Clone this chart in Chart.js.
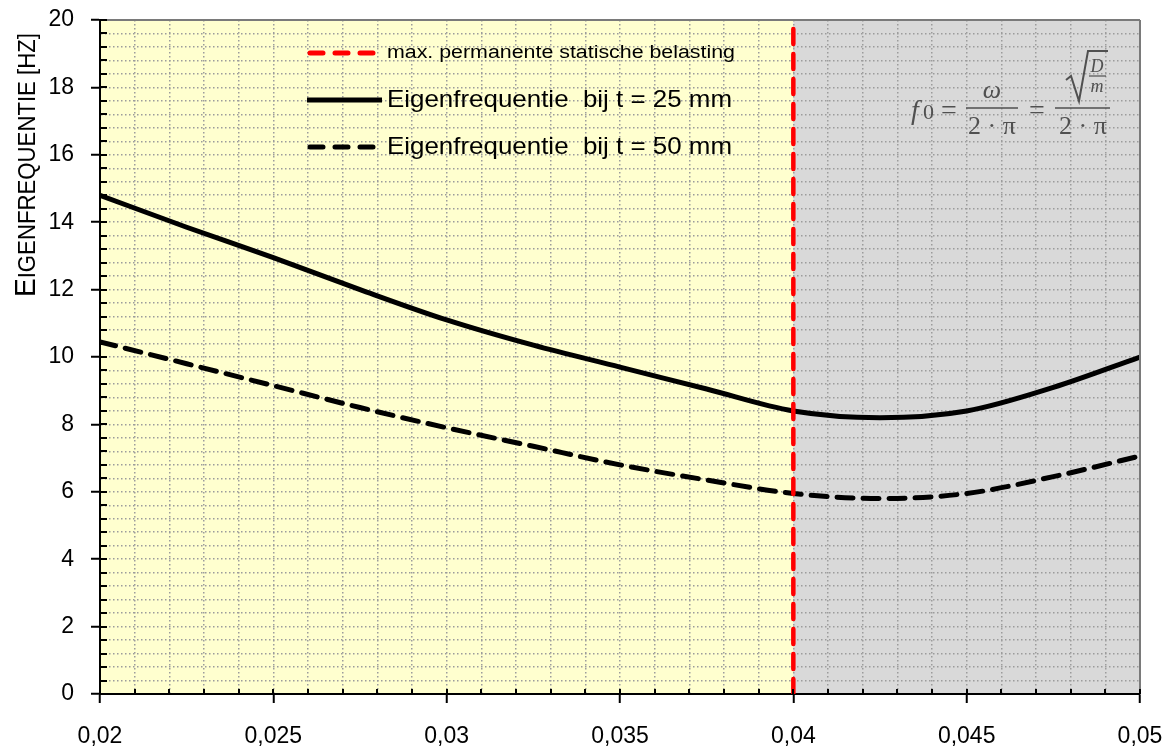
<!DOCTYPE html>
<html>
<head>
<meta charset="utf-8">
<style>
  html, body { margin: 0; padding: 0; background: #fff; }
</style>
<script src="https://cdn.jsdelivr.net/npm/chart.js@4/dist/chart.umd.min.js"></script>
</head>
<body>
<canvas id="myChart" width="1165" height="747"></canvas>
<script>
// Eigenfrequentie chart
var dikte = [0.020, 0.0225, 0.025, 0.0275, 0.030, 0.0325, 0.035, 0.0375, 0.040, 0.0425, 0.045, 0.0475, 0.050];
var freq25 = [14.8, 13.85, 12.95, 12.0, 11.1, 10.35, 9.7, 9.05, 8.4, 8.2, 8.4, 9.1, 10.0];
var freq50 = [10.45, 9.8, 9.15, 8.5, 7.9, 7.35, 6.8, 6.35, 5.95, 5.8, 5.95, 6.45, 7.06];
var grensX = 0.04;
var xTickLabels = ['0,02', '0,025', '0,03', '0,035', '0,04', '0,045', '0,05'];
var yTickLabels = ['0', '2', '4', '6', '8', '10', '12', '14', '16', '18', '20'];
var seriesLabels = ['max. permanente statische belasting', 'Eigenfrequentie  bij t = 25 mm', 'Eigenfrequentie  bij t = 50 mm'];

Chart.defaults.font.family = "'Liberation Sans', Arial, Helvetica, sans-serif";
Chart.defaults.color = '#000';

function pts(xs, ys) {
    return xs.map(function (x, i) { return { x: x, y: ys[i] }; });
}
function isMajorX(v) { return Math.round(v * 1000) % 5 === 0; }
function isMajorY(v) { return Math.round(v * 10) % 20 === 0; }

var backgroundPlugin = {
    id: 'achtergrond',
    beforeDraw: function (chart) {
        var ctx = chart.ctx, a = chart.chartArea;
        var xg = chart.scales.x.getPixelForValue(grensX);
        ctx.save();
        ctx.fillStyle = '#FFFFCF';
        ctx.fillRect(a.left, a.top, xg - a.left, a.bottom - a.top);
        ctx.fillStyle = '#D9D9D9';
        ctx.fillRect(xg, a.top, a.right - xg, a.bottom - a.top);
        ctx.restore();
    }
};

var extrasPlugin = {
    id: 'extras',
    afterDraw: function (chart) {
        var ctx = chart.ctx, a = chart.chartArea;
        var sx = chart.scales.x, sy = chart.scales.y;
        ctx.save();
        // top and right border
        ctx.strokeStyle = '#7a7a7a';
        ctx.lineWidth = 2;
        ctx.beginPath();
        ctx.moveTo(a.left, a.top); ctx.lineTo(a.right, a.top);
        ctx.moveTo(a.right, a.top); ctx.lineTo(a.right, a.bottom);
        ctx.stroke();
        // inner ticks
        ctx.strokeStyle = '#000';
        ctx.lineWidth = 2;
        ctx.beginPath();
        sy.ticks.forEach(function (t) {
            var p = Math.round(sy.getPixelForValue(t.value));
            ctx.moveTo(a.left, p); ctx.lineTo(a.left + 7, p);
        });
        sx.ticks.forEach(function (t) {
            var p = Math.round(sx.getPixelForValue(t.value));
            ctx.moveTo(p, a.bottom); ctx.lineTo(p, a.bottom - 5);
        });
        ctx.stroke();

        // legend
        var rows = [
            { y: 53, font: 18, w: 348 },
            { y: 100, font: 24, w: 345 },
            { y: 147, font: 24, w: 345 }
        ];
        chart.data.datasets.forEach(function (ds, i) {
            var r = rows[i];
            ctx.save();
            ctx.strokeStyle = ds.borderColor;
            ctx.lineWidth = 5;
            ctx.lineCap = ds.borderDash ? 'round' : 'butt';
            ctx.setLineDash(ds.borderDash ? [13, 12] : []);
            ctx.beginPath();
            ctx.moveTo(ds.borderDash ? 310 : 307, r.y);
            ctx.lineTo(382, r.y);
            ctx.stroke();
            ctx.setLineDash([]);
            ctx.font = r.font + "px 'Liberation Sans', Arial, sans-serif";
            ctx.fillStyle = '#000';
            ctx.textBaseline = 'middle';
            var m = ctx.measureText(ds.label).width;
            ctx.translate(387, r.y);
            ctx.scale(r.w / m, 1);
            ctx.fillText(ds.label, 0, 0);
            ctx.restore();
        });

        // formula
        ctx.fillStyle = '#505050';
        ctx.strokeStyle = '#505050';
        ctx.textBaseline = 'alphabetic';
        ctx.textAlign = 'left';
        ctx.font = "italic 28px 'Liberation Serif', 'DejaVu Serif', serif";
        ctx.fillText('f', 911, 119);
        ctx.font = "22px 'Liberation Serif', 'DejaVu Serif', serif";
        ctx.fillText('0', 923, 119);
        ctx.font = "28px 'Liberation Serif', 'DejaVu Serif', serif";
        ctx.fillText('=', 941, 119);
        ctx.fillText('=', 1029, 119);
        ctx.lineWidth = 1.5;
        ctx.beginPath();
        ctx.moveTo(966, 108); ctx.lineTo(1018, 108);
        ctx.moveTo(1055, 108); ctx.lineTo(1110, 108);
        ctx.stroke();
        ctx.textAlign = 'center';
        ctx.font = "italic 26px 'Liberation Serif', 'DejaVu Serif', serif";
        ctx.fillText('\u03C9', 992, 98);
        ctx.font = "26px 'Liberation Serif', 'DejaVu Serif', serif";
        ctx.fillText('2 \u00B7 \u03C0', 992, 134);
        ctx.fillText('2 \u00B7 \u03C0', 1083, 134);
        // square root
        ctx.lineWidth = 2;
        ctx.beginPath();
        ctx.moveTo(1066, 80); ctx.lineTo(1071, 76);
        ctx.lineTo(1079, 101); ctx.lineTo(1088, 51); ctx.lineTo(1108, 51);
        ctx.stroke();
        ctx.lineWidth = 1.2;
        ctx.beginPath();
        ctx.moveTo(1089, 76); ctx.lineTo(1106, 76);
        ctx.stroke();
        ctx.font = "italic 18px 'Liberation Serif', 'DejaVu Serif', serif";
        ctx.fillText('D', 1097, 72);
        ctx.fillText('m', 1097, 92);

        // y axis title in small caps
        var parts = [['E', 29], ['IGENFREQUENTIE [HZ]', 23]];
        var total = 0;
        parts.forEach(function (p) {
            ctx.font = p[1] + "px 'Liberation Sans', Arial, sans-serif";
            total += ctx.measureText(p[0]).width;
        });
        ctx.translate(35, 297);
        ctx.rotate(-Math.PI / 2);
        ctx.scale(264 / total, 1);
        ctx.textAlign = 'left';
        ctx.fillStyle = '#000';
        var xx = 0;
        parts.forEach(function (p) {
            ctx.font = p[1] + "px 'Liberation Sans', Arial, sans-serif";
            ctx.fillText(p[0], xx, 0);
            xx += ctx.measureText(p[0]).width;
        });
        ctx.restore();
    }
};

var ctx = document.getElementById('myChart').getContext('2d');
var myChart = new Chart(ctx, {
    type: 'line',
    data: {
        datasets: [{
            label: seriesLabels[0],
            data: pts([grensX, grensX], [0, 20]),
            borderColor: '#FF0000',
            borderWidth: 4.5,
            borderDash: [15, 10],
            borderCapStyle: 'round',
            pointRadius: 0
        }, {
            label: seriesLabels[1],
            data: pts(dikte, freq25),
            borderColor: '#000',
            borderWidth: 5,
            pointRadius: 0,
            cubicInterpolationMode: 'monotone'
        }, {
            label: seriesLabels[2],
            data: pts(dikte, freq50),
            borderColor: '#000',
            borderWidth: 5,
            borderDash: [16, 10],
            borderCapStyle: 'round',
            pointRadius: 0,
            cubicInterpolationMode: 'monotone'
        }]
    },
    options: {
        responsive: false,
        animation: false,
        layout: { padding: { top: 20, right: 25, left: 0, bottom: 0 } },
        plugins: {
            legend: { display: false },
            tooltip: { enabled: false }
        },
        scales: {
            x: {
                type: 'linear',
                min: 0.02,
                max: 0.05,
                afterFit: function (s) {
                    s.height = 53;
                    s.paddingLeft = 0; s.paddingRight = 0;
                    s.paddingTop = 0; s.paddingBottom = 0;
                },
                ticks: {
                    stepSize: 0.001,
                    maxTicksLimit: 100,
                    autoSkip: false,
                    maxRotation: 0,
                    padding: 20,
                    font: { size: 23 },
                    callback: function (v) {
                        var i = Math.round(v * 1000);
                        return i % 5 === 0 ? xTickLabels[(i - 20) / 5] : '';
                    }
                },
                grid: {
                    color: '#9c9c9c',
                    lineWidth: 1.5,
                    tickLength: 9,
                    tickWidth: 2,
                    tickBorderDash: [],
                    tickColor: function (c) {
                        return c.tick && isMajorX(c.tick.value) ? '#000' : 'rgba(0,0,0,0)';
                    }
                },
                border: { color: '#000', width: 2, dash: [1.5, 2.5] }
            },
            y: {
                min: 0,
                max: 20,
                afterFit: function (s) {
                    s.width = 100;
                    s.paddingLeft = 0; s.paddingRight = 0;
                    s.paddingTop = 0; s.paddingBottom = 0;
                },
                ticks: {
                    stepSize: 0.4,
                    maxTicksLimit: 100,
                    autoSkip: false,
                    padding: 17,
                    font: { size: 23 },
                    callback: function (v) {
                        var i = Math.round(v * 10);
                        return i % 20 === 0 ? yTickLabels[i / 20] : '';
                    }
                },
                grid: {
                    color: '#9c9c9c',
                    lineWidth: 1.5,
                    tickLength: 9,
                    tickWidth: 2,
                    tickBorderDash: [],
                    tickColor: function (c) {
                        return c.tick && isMajorY(c.tick.value) ? '#000' : 'rgba(0,0,0,0)';
                    }
                },
                border: { color: '#000', width: 2, dash: [1.5, 2.5] }
            }
        }
    },
    plugins: [backgroundPlugin, extrasPlugin]
});
</script>
</body>
</html>
